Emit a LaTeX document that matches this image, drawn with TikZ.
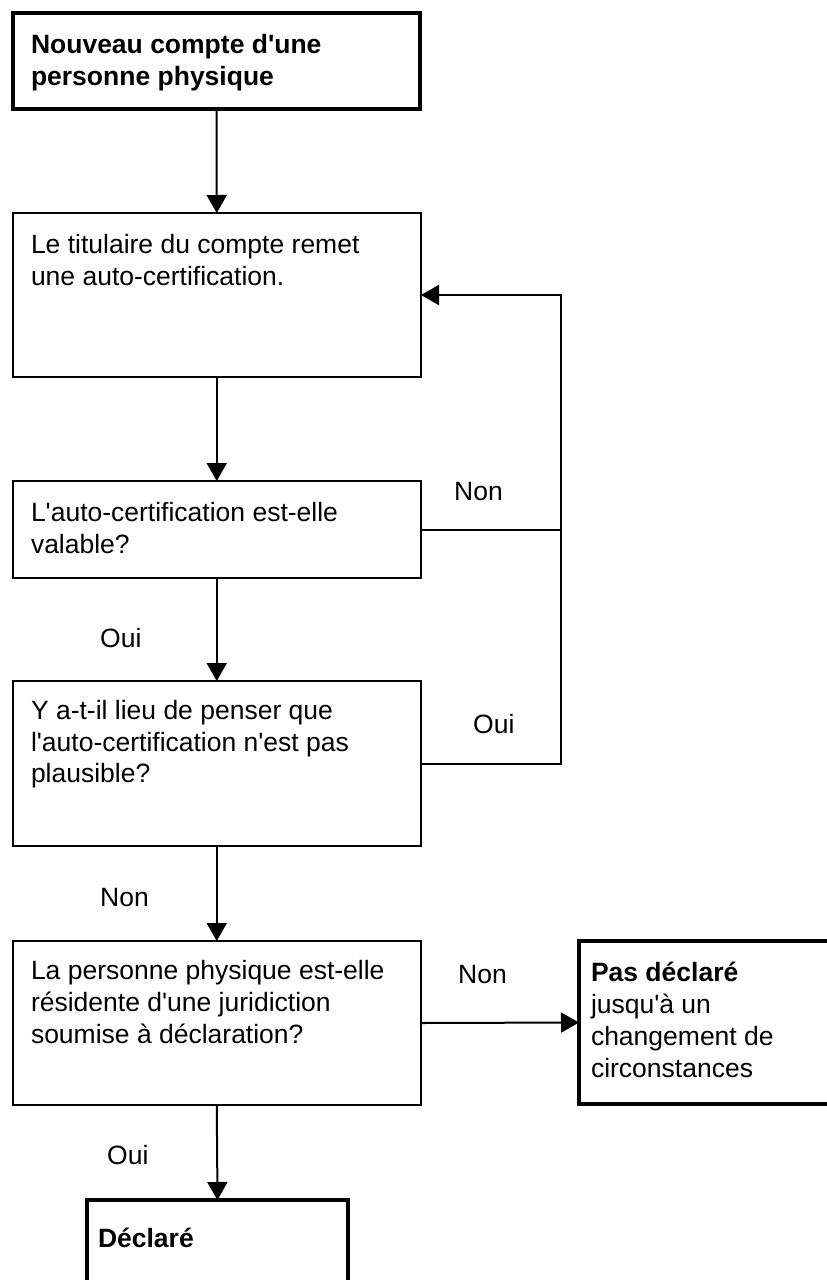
\documentclass[tikz,border=0pt]{standalone}
\usepackage{fontspec}
\setmainfont{Liberation Sans}[Ligatures=TeXOff]
\usetikzlibrary{arrows.meta,calc}
\newcommand\fsz{\fontsize{26.5}{31.8}\selectfont}
\begin{document}
\begin{tikzpicture}[x=1pt,y=-1pt,
  thinbox/.style={draw, line width=2pt, anchor=north west, inner sep=0pt, outer sep=0pt},
  thickbox/.style={draw, line width=4pt, anchor=north west, inner sep=0pt, outer sep=0pt},
  txt/.style={anchor=north west, inner sep=0pt, outer sep=0pt, align=left, font=\fsz},
  lbl/.style={anchor=base west, inner sep=0pt, font=\fsz},
  conn/.style={line width=2pt},
  arr/.style={line width=2pt, -{Triangle[length=18pt,width=20pt]}}]
\useasboundingbox (0,0) rectangle (827,1280);
\clip (0,0) rectangle (827,1280);
\fill[white] (0,0) rectangle (827,1280);
% boxes
\node[thickbox, minimum width=407, minimum height=96] (b1) at (13,13) {};
\node[thinbox, minimum width=408.5, minimum height=164] (b2) at (12.5,213) {};
\node[thinbox, minimum width=408.5, minimum height=97] (b3) at (12.5,481) {};
\node[thinbox, minimum width=408.5, minimum height=165] (b4) at (12.5,681) {};
\node[thinbox, minimum width=408.5, minimum height=164] (b5) at (12.5,941) {};
\node[thickbox, minimum width=300, minimum height=163] (b6) at (579,941) {};
\node[thickbox, minimum width=261, minimum height=120] (b7) at (87,1200) {};
% texts
\node[txt] (t1) at ($(b1.north west)+(18,18.7)$) {\bfseries\strut Nouveau compte d'une\\\bfseries personne physique};
\node[txt] (t2) at ($(b2.north west)+(18.5,18.7)$) {\strut Le titulaire du compte remet\\une auto-certification.};
\node[txt] (t3) at ($(b3.north west)+(18.5,18.7)$) {\strut L'auto-certification est-elle\\valable?};
\node[txt] (t4) at ($(b4.north west)+(18.5,16)$) {\strut Y a-t-il lieu de penser que\\l'auto-certification n'est pas\\plausible?};
\node[txt] (t5) at ($(b5.north west)+(18.5,16.7)$) {\strut La personne physique est-elle\\résidente d'une juridiction\\soumise à déclaration?};
\node[txt] (t6) at ($(b6.north west)+(12,18.7)$) {\bfseries\strut Pas déclaré\\jusqu'à un\\changement de\\circonstances};
\node[txt] (t7) at ($(b7.north west)+(11,25.7)$) {\bfseries\strut Déclaré};
% connectors
\draw[arr] (b1.south) -- (b2.north);
\draw[arr] (b2.south) -- (b3.north);
\draw[arr] (b3.south) -- (b4.north);
\draw[arr] (b4.south) -- (b5.north);
\draw[arr] (b5.south) -- (b7.north);
\draw[arr] (b5.east) -- (b6.west);
\coordinate (loop) at (561,295);
\draw[arr] (b3.east) -- (b3.east -| loop) -- (loop) -- (b2.east |- loop);
\draw[conn] (b4.east) -- (b4.east -| loop) -- (b3.east -| loop);
% labels
\node[lbl] (l1) at (100,647) {Oui};
\node[lbl] (l2) at (100,906) {Non};
\node[lbl] (l3) at (107,1164) {Oui};
\node[lbl] (l4) at (454,500) {Non};
\node[lbl] (l5) at (473,733) {Oui};
\node[lbl] (l6) at (458,983) {Non};
\end{tikzpicture}
\end{document}
